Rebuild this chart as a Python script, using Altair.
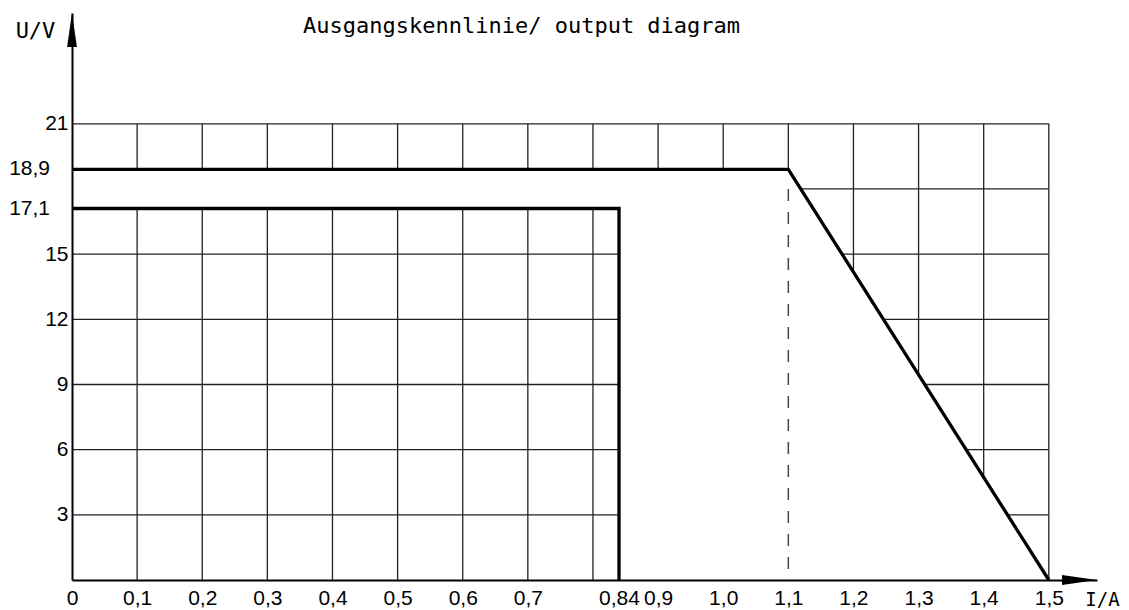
import altair as alt
import pandas as pd

# ---- data ----
grid_x = [0.1, 0.2, 0.3, 0.4, 0.5, 0.6, 0.7, 0.8, 0.9, 1.0, 1.1, 1.2, 1.3, 1.4, 1.5]
grid_y = [3, 6, 9, 12, 15, 18, 21]
grid_u_top = 21
grid_i_right = 1.5

inner_i = [0, 0.84, 0.84]
inner_u = [17.1, 17.1, 0]
outer_i = [0, 1.1, 1.5]
outer_u = [18.9, 18.9, 0]

band_i = [0, 0.84, 0.84, 1.1, 1.5]
band_hi = [18.9, 18.9, 18.9, 18.9, 0]
band_lo = [17.1, 17.1, 0, 0, 0]

dash_i = [1.1]
dash_top = [18.0]
dash_bottom = [0.45]

x_ticks = [0, 0.1, 0.2, 0.3, 0.4, 0.5, 0.6, 0.7, 0.84, 0.9, 1.0, 1.1, 1.2, 1.3, 1.4, 1.5]
x_tick_labels = ["0", "0,1", "0,2", "0,3", "0,4", "0,5", "0,6", "0,7", "0,84", "0,9",
                 "1,0", "1,1", "1,2", "1,3", "1,4", "1,5"]
y_ticks = [3, 6, 9, 12, 15, 21]
y_tick_labels = ["3", "6", "9", "12", "15", "21"]
y_special = [18.9, 17.1]
y_special_labels = ["18,9", "17,1"]

x_max = 1.574
y_max = 26.1

title_text = ["Ausgangskennlinie/ output diagram"]

LABEL_FONT = "Liberation Sans Narrow, Liberation Sans, sans-serif"
MONO = "DejaVu Sans Mono"

# ---- tables ----
vgrid = pd.DataFrame({"i": grid_x, "u0": [0] * len(grid_x), "u1": [grid_u_top] * len(grid_x)})
hgrid = pd.DataFrame({"u": grid_y, "i0": [0] * len(grid_y), "i1": [grid_i_right] * len(grid_y)})
curves = pd.DataFrame({
    "i": inner_i + outer_i,
    "u": inner_u + outer_u,
    "series": ["inner"] * 3 + ["outer"] * 3,
    "seq": list(range(3)) + list(range(3)),
})
band = pd.DataFrame({"i": band_i, "hi": band_hi, "lo": band_lo})
dash = pd.DataFrame({"i": dash_i, "u0": dash_top, "u1": dash_bottom})
yarrow = pd.DataFrame({"i": [0], "u": [y_max]})
xarrow = pd.DataFrame({"i": [x_max], "u": [0]})
special = pd.DataFrame({"i": [0, 0], "u": y_special, "lab": y_special_labels})
title_df = pd.DataFrame({"t": title_text})


def lookup_expr(vals, labels):
    v = ",".join(repr(x) for x in vals)
    l = ",".join("'" + s + "'" for s in labels)
    return f"[{l}][indexof([{v}], datum.value)]"


xscale = alt.Scale(domain=[0, x_max], nice=False, zero=False)
yscale = alt.Scale(domain=[0, y_max], nice=False, zero=False)

x_axis = alt.Axis(
    values=x_ticks, labelExpr=lookup_expr(x_ticks, x_tick_labels),
    title="I/A", titleX=1030, titleY=19, titleAngle=0, titleAlign="center",
    titleBaseline="middle", titleFont=MONO, titleFontSize=19, titleFontWeight="normal",
    titleColor="black",
    ticks=False, tickSize=0, labelPadding=7, labelFont=LABEL_FONT, labelFontSize=21,
    labelColor="black", labelFlush=False, labelOverlap=False,
    domainColor="black", domainWidth=2, grid=False, zindex=1,
)
y_axis = alt.Axis(
    values=y_ticks, labelExpr=lookup_expr(y_ticks, y_tick_labels),
    title="U/V", titleX=-37, titleY=17, titleAngle=0, titleAlign="center",
    titleBaseline="middle", titleFont=MONO, titleFontSize=22, titleFontWeight="normal",
    titleColor="black",
    ticks=False, tickSize=0, labelPadding=4, labelFont=LABEL_FONT, labelFontSize=21,
    labelColor="black", labelFlush=False, labelOverlap=False,
    domainColor="black", domainWidth=2, grid=False, zindex=1,
)

GRID_COLOR = "#222222"

vlines = alt.Chart(vgrid).mark_rule(color=GRID_COLOR, strokeWidth=1.3).encode(
    x=alt.X("i:Q", scale=xscale, axis=x_axis),
    y=alt.Y("u0:Q", scale=yscale, axis=y_axis),
    y2="u1:Q",
)
hlines = alt.Chart(hgrid).mark_rule(color=GRID_COLOR, strokeWidth=1.3).encode(
    y=alt.Y("u:Q"), x=alt.X("i0:Q"), x2="i1:Q",
)
white_band = alt.Chart(band).mark_area(
    fill="#ffffff", fillOpacity=1, opacity=1, strokeWidth=0, orient="vertical", interpolate="linear"
).encode(
    x=alt.X("i:Q"), y=alt.Y("hi:Q"), y2=alt.Y2("lo:Q"),
)
dashed = alt.Chart(dash).mark_rule(color="#444444", strokeWidth=1.5, strokeDash=[12, 11]).encode(
    x="i:Q", y="u0:Q", y2="u1:Q",
)
lines = alt.Chart(curves).mark_line(color="black", strokeWidth=3.3, strokeJoin="miter").encode(
    x="i:Q", y="u:Q", detail="series:N", order="seq:Q",
)
up_arrow = alt.Chart(yarrow).mark_point(
    shape="M0,-1L0.29,1L-0.29,1Z", size=1156, filled=True, color="black",
    opacity=1, strokeWidth=0, yOffset=17,
).encode(x="i:Q", y="u:Q")
right_arrow = alt.Chart(xarrow).mark_point(
    shape="M1,0L-1,-0.29L-1,0.29Z", size=1225, filled=True, color="black",
    opacity=1, strokeWidth=0, xOffset=-17.5,
).encode(x="i:Q", y="u:Q")
special_labels = alt.Chart(special).mark_text(
    align="right", baseline="middle", dx=-22, font=LABEL_FONT, fontSize=21, color="black",
).encode(x="i:Q", y="u:Q", text="lab:N")
title_mark = alt.Chart(title_df).mark_text(
    align="left", baseline="alphabetic", font=MONO, fontSize=22, color="black",
).encode(text="t:N", x=alt.value(231), y=alt.value(20))

chart = alt.layer(
    vlines, hlines, white_band, dashed, lines, up_arrow, right_arrow, special_labels, title_mark
).properties(
    width=1025, height=567,
    padding={"left": 64, "top": 5, "right": 24, "bottom": 36},
    autosize=alt.AutoSizeParams(type="none"),
    background="white",
).configure_view(strokeWidth=0)

chart.save("out.html", embed_options={"renderer": "svg", "actions": False})
